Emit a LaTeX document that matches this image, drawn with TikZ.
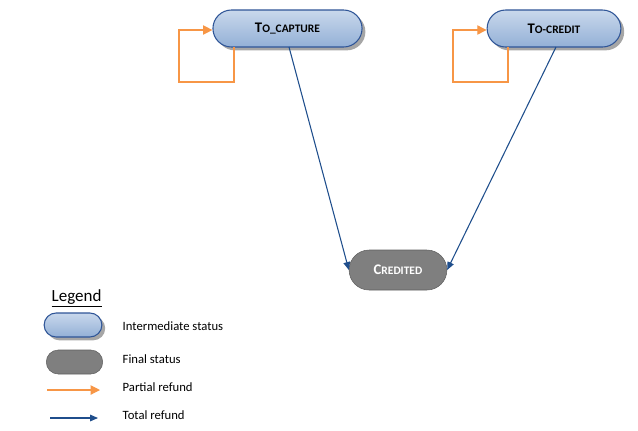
\documentclass[tikz,border=0pt]{standalone}
\usepackage{fontspec}
\setmainfont{Carlito}
\usepackage{tikz}
\usetikzlibrary{positioning, arrows.meta, shadows, shapes.misc}

\definecolor{stateborder}{HTML}{2F5597}
\definecolor{statetop}{HTML}{C9D8EC}
\definecolor{statebottom}{HTML}{93B0D6}
\definecolor{finalfill}{HTML}{7F7F7F}
\definecolor{finalborder}{HTML}{5F5F5F}
\definecolor{partial}{HTML}{F79646}
\definecolor{total}{HTML}{1F4E8C}

% fake small capitals: big first letter, smaller capitals after
\newcommand{\fakesc}[2]{#1{\fontsize{8.6}{10}\selectfont #2}}

\tikzset{
    status/.style={draw=stateborder, thick, rounded rectangle, top color=statetop, bottom color=statebottom,
        drop shadow={shadow xshift=2.5pt, shadow yshift=-2.5pt, fill=gray, opacity=0.7},
        minimum height=27.75pt, font=\fontsize{11}{13}\selectfont\bfseries},
    final/.style={draw=finalborder, rounded rectangle, fill=finalfill, text=white,
        minimum height=30pt, font=\fontsize{11}{13}\selectfont\bfseries},
    partialarrow/.style={draw=partial, thick, -{Triangle[length=7pt, width=7pt]}},
    totalarrow/.style={draw=total, line width=0.8pt, -{Triangle[length=6pt, width=5pt]}},
    legendtext/.style={anchor=west, font=\fontsize{9.5}{11}\selectfont}
}

\begin{document}
\begin{tikzpicture}[x=0.75pt, y=-0.75pt]
    \useasboundingbox (0,0) rectangle (638,430);

    \node[status, minimum width=118.5pt] at (287.5,28.5) (capture) {\fakesc{T}{O\_CAPTURE}};
    \node[status, minimum width=107pt]   at (554,28.5)   (credit)  {\fakesc{T}{O-CREDIT}};
    \node[final,  minimum width=80pt]    at (398,270)    (credited) {\fakesc{C}{REDITED}};

    % partial refund loops
    \coordinate (c1) at (234,47);
    \coordinate (c2) at (508,47);
    \draw[partialarrow] (c1) -- (234,82) -- (179,82) -- (179,30) -- (capture.west |- 0,30);
    \draw[partialarrow] (c2) -- (508,82) -- (453,82) -- (453,30) -- (credit.west |- 0,30);

    % total refund
    \draw[totalarrow] (289,47) -- (credited.west);
    \draw[totalarrow] (556,47) -- (credited.east);

    % legend
    \node[anchor=west, font=\fontsize{12.75}{15}\selectfont] at (47,298) (legend) {\underline{Legend}};
    \node[status, minimum width=50pt, minimum height=18pt] at (73,325) (lgstatus) {};
    \node[final,  minimum width=49pt, minimum height=18pt] at (74.5,362) (lgfinal) {};
    \node[legendtext] at (118,326) (lgtxt1) {Intermediate status};
    \node[legendtext] at (118,359) (lgtxt2) {Final status};
    \node[legendtext] at (118,387) (lgtxt3) {Partial refund};
    \node[legendtext] at (118,415) (lgtxt4) {Total refund};
    \coordinate (p1) at (47,390);
    \coordinate (p2) at (100,390);
    \coordinate (t1) at (50,418);
    \coordinate (t2) at (98,418);
    \draw[partialarrow] (p1) -- (p2);
    \draw[totalarrow] (t1) -- (t2);
\end{tikzpicture}
\end{document}
